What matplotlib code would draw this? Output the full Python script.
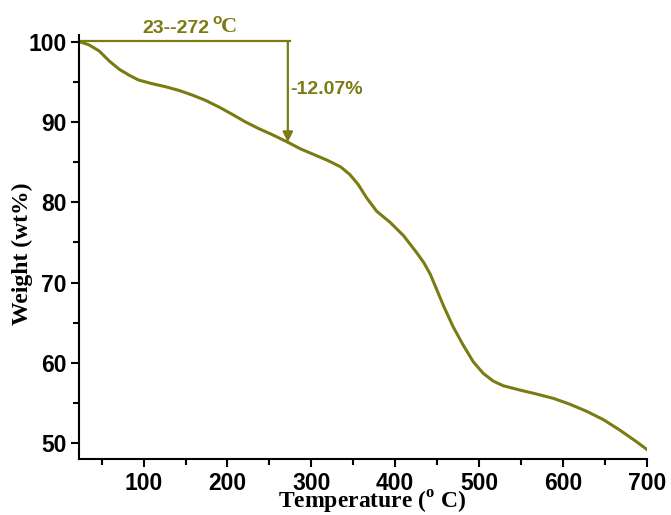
import matplotlib
matplotlib.use("Agg")
import matplotlib.pyplot as plt
from matplotlib.ticker import MultipleLocator

temperature = [23, 35, 47, 59, 71, 83, 94, 110, 126, 142, 158, 174, 190, 206, 221,
               237, 253, 271, 287, 303, 319, 335, 346, 356, 366, 378, 394, 410, 426,
               434, 442, 450, 458, 469, 481, 493, 505, 517, 529, 549, 569, 589, 608,
               628, 648, 668, 688, 700]
weight = [100.05, 99.63, 98.88, 97.63, 96.59, 95.84, 95.25, 94.8, 94.42, 93.96,
          93.38, 92.71, 91.88, 90.96, 90.05, 89.21, 88.46, 87.55, 86.67, 85.96,
          85.25, 84.42, 83.46, 82.21, 80.55, 78.88, 77.5, 75.84, 73.67, 72.5, 71.0,
          69.0, 67.0, 64.5, 62.21, 60.13, 58.67, 57.71, 57.13, 56.59, 56.09, 55.55,
          54.84, 53.96, 52.92, 51.59, 50.13, 49.2]
x_ticks = [100, 200, 300, 400, 500, 600, 700]
y_ticks = [50, 60, 70, 80, 90, 100]
range_start, range_end = 23, 272
loss_top, loss_bottom = 100.1, 87.5
loss_label = "-12.07%"

olive = "#7b7b14"
plt.rcParams["mathtext.fontset"] = "custom"
plt.rcParams["mathtext.rm"] = "Liberation Serif:bold"
plt.rcParams["mathtext.bf"] = "Liberation Serif:bold"

fig = plt.figure(figsize=(6.71, 5.15), dpi=100)
ax = fig.add_axes([0.1177, 0.1087, 0.9640 - 0.1177, 0.9326 - 0.1087])

ax.plot(temperature, weight, color=olive, lw=2.2, solid_joinstyle="round")
ax.set_xlim(23, 700)
ax.set_ylim(48, 100.9)

ax.set_xticks(x_ticks)
ax.set_yticks(y_ticks)
ax.xaxis.set_minor_locator(MultipleLocator(50))
ax.yaxis.set_minor_locator(MultipleLocator(5))
ax.tick_params(which="major", direction="out", length=6, width=1.5, labelsize=16.5, pad=3)
ax.tick_params(which="minor", direction="out", length=4, width=1.5)
for lab in ax.get_xticklabels() + ax.get_yticklabels():
    lab.set_fontfamily("Liberation Sans")
    lab.set_fontweight("bold")
for s in ["top", "right"]:
    ax.spines[s].set_visible(False)
for s in ["left", "bottom"]:
    ax.spines[s].set_linewidth(1.5)

ax.set_xlabel(r"Temperature ($^{\mathrm{o}}$ C)", family="Liberation Serif",
              fontweight="bold", fontsize=17, labelpad=-4)
ax.xaxis.label.set_x(0.516)
ax.set_ylabel("Weight (wt%)", family="Liberation Serif", fontweight="bold",
              fontsize=17)
ax.yaxis.set_label_coords(-0.081, 0.483)

# annotation: horizontal range line and arrow
ax.plot([range_start, range_end + 3], [loss_top, loss_top], color=olive, lw=1.6,
        clip_on=False)
ax.annotate("", xy=(range_end, loss_bottom), xytext=(range_end, loss_top),
            arrowprops=dict(arrowstyle="-|>", color=olive, lw=1.6,
                            mutation_scale=15, shrinkA=0, shrinkB=0),
            annotation_clip=False)
t1 = ax.text(99, 101.1, f"{range_start}--{range_end}", color=olive,
             family="Liberation Sans", fontweight="bold", fontsize=14,
             ha="left", va="baseline")
t2 = ax.annotate("o", xy=(1, 0.62), xycoords=t1, xytext=(2, 0),
                 textcoords="offset points", color=olive,
                 family="Liberation Sans", fontweight="bold", fontsize=11,
                 ha="left", va="bottom")
ax.annotate("C", xy=(1, 0), xycoords=(t2, t1), xytext=(-1, 0),
            textcoords="offset points", color=olive,
            family="Liberation Serif", fontweight="bold", fontsize=16,
            ha="left", va="bottom")
ax.text(275, 94.1, loss_label, color=olive, family="Liberation Sans",
        fontweight="bold", fontsize=14, ha="left", va="center")

fig.savefig("out.png", dpi=100, facecolor="white")
